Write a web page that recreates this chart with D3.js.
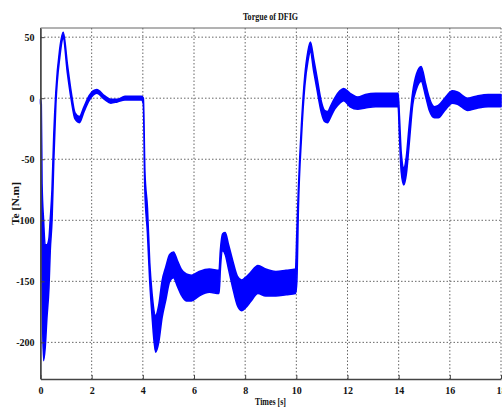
<!DOCTYPE html>
<html>
<head>
<meta charset="utf-8">
<script src="https://cdn.jsdelivr.net/npm/d3@7"></script>
<style>
  html, body { margin: 0; padding: 0; background: #fff; }
  svg { display: block; }
  text { font-family: "Liberation Serif", "DejaVu Serif", serif; font-weight: bold; fill: #111; }
</style>
</head>
<body>
<svg id="chart" width="502" height="411"></svg>
<script>
// Electromagnetic torque of the DFIG: the trace is a fast ripple, drawn as its
// upper and lower envelope over time.
const time = [0, 0.03, 0.06, 0.12, 0.18, 0.25, 0.33, 0.38, 0.45, 0.52, 0.6, 0.75, 0.89, 1.05, 1.2, 1.35, 1.52, 1.7, 1.9, 2.2, 2.5, 2.75, 3.0, 3.3, 3.6, 3.95,
  4.02, 4.08, 4.18, 4.27, 4.36, 4.5, 4.62, 4.75, 4.9, 5.05, 5.2, 5.35, 5.5, 5.7, 5.9, 6.2, 6.6, 6.98,
  7.03, 7.12, 7.22, 7.35, 7.5, 7.7, 7.86, 8.0, 8.2, 8.5, 8.8, 9.2, 9.6, 9.97,
  10.02, 10.08, 10.2, 10.33, 10.45, 10.55, 10.68, 10.8, 10.98, 11.1, 11.22, 11.35, 11.5, 11.7, 11.85, 12.1, 12.4, 12.7, 13.1, 13.5, 13.98,
  14.03, 14.1, 14.2, 14.3, 14.4, 14.55, 14.7, 14.88, 15.05, 15.2, 15.4, 15.55, 15.8, 16.1, 16.3, 16.7, 17.1, 17.5, 18];
const torqueUpper = [-1, -5, -70, -100, -120, -120, -115, -100, -75, -30, 5, 40, 54, 28, 5, -12, -15, -7, 2, 7, 2, -1, -1, 1.5, 1.5, 1.5,
  0, -60, -90, -135, -160, -178, -170, -150, -138, -128, -126, -133, -140, -144, -145, -142, -140, -141,
  -125, -111, -110, -120, -132, -146, -149, -147, -143, -137, -140, -142, -141, -140,
  -110, -75, -22, 18, 38, 46, 32, 18, -3, -10, -11, -6, 0, 6, 8, 4, 1, 3, 4, 4, 4,
  -15, -45, -57, -48, -25, 5, 20, 26, 12, 0, -7, -6, 0, 6, 5, 0, 2, 3, 3];
const torqueLower = [-4, -10, -150, -215, -205, -180, -155, -125, -100, -50, -5, 33, 49, 21, -1, -17, -20, -11, -2, 4, -1, -4, -3, -1.5, -1.5, -1.5,
  -5, -75, -110, -150, -178, -208, -200, -180, -165, -150, -147, -154, -161, -166, -166, -162, -159, -160,
  -140, -125, -128, -140, -154, -170, -174, -172, -167, -160, -162, -162, -161, -160,
  -150, -90, -32, 10, 30, 38, 22, 8, -12, -19, -20, -15, -9, -4, -2, -7, -9, -8, -7, -7, -7,
  -30, -60, -71, -62, -40, -5, 8, 14, 2, -10, -16, -16, -10, -4, -5, -10, -8, -7, -7];
const xTicks = [0, 2, 4, 6, 8, 10, 12, 14, 16, 18];
const yTicks = [-200, -150, -100, -50, 0, 50];

const title = "Torgue of DFIG";
const xLabel = "Times [s]";
const yLabel = "Te [N.m]";

const svg = d3.select("#chart");
const margin = { left: 40.5, right: 1, top: 28, bottom: 32 };
const W = 502, H = 411;
const x = d3.scaleLinear().domain([0, 18]).range([margin.left, W - margin.right]);
const y = d3.scaleLinear().domain([-230, 57.5]).range([H - margin.bottom, margin.top]);

const plot = svg.append("g");

// dotted grid
plot.append("g").selectAll("line").data(xTicks.slice(1)).join("line")
  .attr("x1", d => x(d)).attr("x2", d => x(d))
  .attr("y1", y.range()[1]).attr("y2", y.range()[0])
  .attr("stroke", "#666").attr("stroke-width", 1).attr("stroke-dasharray", "1.5,2");
plot.append("g").selectAll("line").data(yTicks).join("line")
  .attr("x1", x.range()[0]).attr("x2", x.range()[1])
  .attr("y1", d => y(d)).attr("y2", d => y(d))
  .attr("stroke", "#666").attr("stroke-width", 1).attr("stroke-dasharray", "1.5,2");

// torque band
const pts = time.map((t, i) => ({ t, hi: torqueUpper[i], lo: torqueLower[i] }));
const band = d3.area().x(d => x(d.t)).y0(d => y(d.lo)).y1(d => y(d.hi)).curve(d3.curveMonotoneX);
plot.append("path").datum(pts)
  .attr("d", band)
  .attr("fill", "#0000ff")
  .attr("stroke", "#0000ff")
  .attr("stroke-width", 1.6)
  .attr("stroke-linejoin", "round");

// axes frame
const frame = svg.append("g");
frame.append("line").attr("x1", x.range()[0]).attr("x2", x.range()[1]).attr("y1", y.range()[1]).attr("y2", y.range()[1]).attr("stroke", "#666");
frame.append("line").attr("x1", x.range()[0]).attr("x2", x.range()[0]).attr("y1", y.range()[1]).attr("y2", y.range()[0]).attr("stroke", "#555");

const plain = d => String(d);

const xAxis = d3.axisBottom(x).tickValues(xTicks).tickSizeInner(-4).tickSizeOuter(0).tickPadding(8).tickFormat(plain);
const gx = svg.append("g").attr("transform", `translate(0,${y.range()[0]})`).call(xAxis);
gx.select(".domain").attr("stroke", "#444").attr("stroke-width", 1.5);
gx.selectAll(".tick line").attr("stroke", "#444");
gx.selectAll("text").attr("font-size", 10).attr("font-family", "Liberation Serif").attr("font-weight", "bold").attr("fill", "#111");

const yAxis = d3.axisLeft(y).tickValues(yTicks).tickSizeInner(-4).tickSizeOuter(0).tickPadding(6).tickFormat(plain);
const gy = svg.append("g").attr("transform", `translate(${x.range()[0]},0)`).call(yAxis);
gy.select(".domain").attr("stroke", "#444").attr("stroke-width", 1.5);
gy.selectAll(".tick line").attr("stroke", "#444");
gy.selectAll("text").attr("font-size", 10).attr("font-family", "Liberation Serif").attr("font-weight", "bold").attr("fill", "#111");

// titles
svg.append("text").attr("x", 270.5).attr("y", 19.5).attr("text-anchor", "middle")
  .attr("font-size", 10).attr("textLength", 55).attr("lengthAdjust", "spacingAndGlyphs").text(title);
svg.append("text").attr("x", 270.5).attr("y", 405).attr("text-anchor", "middle")
  .attr("font-size", 10).attr("textLength", 31).attr("lengthAdjust", "spacingAndGlyphs").text(xLabel);
svg.append("text").attr("transform", "translate(19,203.5) rotate(-90)").attr("text-anchor", "middle")
  .attr("font-size", 10).attr("textLength", 43).attr("lengthAdjust", "spacingAndGlyphs").text(yLabel);
</script>
</body>
</html>
